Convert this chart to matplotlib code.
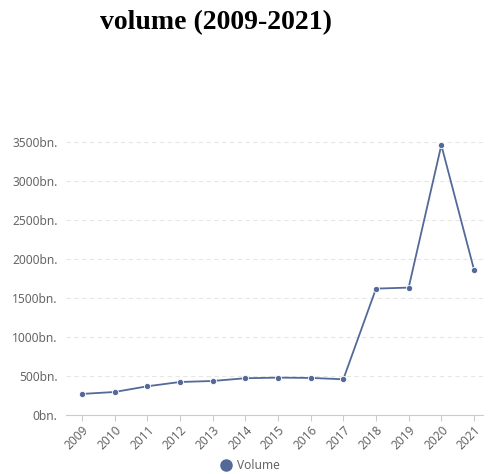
import matplotlib.pyplot as plt

years = ['2009', '2010', '2011', '2012', '2013', '2014', '2015',
         '2016', '2017', '2018', '2019', '2020', '2021']
volume = [270, 295, 368, 423, 436, 471, 479, 475, 458, 1620, 1633, 3460, 1864]
y_ticks = [0, 500, 1000, 1500, 2000, 2500, 3000, 3500]

color = '#536a98'

fig = plt.figure(figsize=(4.89, 4.74), dpi=100)
ax = fig.add_axes([0.135, 0.1245, 0.853, 0.576])

x = list(range(len(years)))
ax.plot(x, volume, color=color, linewidth=1.3, marker='o', markersize=4.5,
        markeredgecolor='white', markeredgewidth=0.6, zorder=3)

ax.set_xlim(-0.49, len(years) - 0.72)
ax.set_ylim(0, 3500)
ax.set_yticks(y_ticks)
ax.set_yticklabels([f'{v}bn.' for v in y_ticks])
ax.set_xticks(x)
ax.set_xticklabels(years, rotation=45, ha='right', rotation_mode='anchor')

for lbl in ax.get_xticklabels() + ax.get_yticklabels():
    lbl.set_family('Noto Sans')
    lbl.set_fontsize(8.6)
    lbl.set_color('#666666')

ax.grid(axis='y', color='#e6e6e6', linestyle=(0, (4, 3)), linewidth=0.8)
ax.set_axisbelow(True)
for s in ['top', 'right', 'left']:
    ax.spines[s].set_visible(False)
ax.spines['bottom'].set_color('#cccccc')
ax.tick_params(axis='y', length=0, pad=6)
ax.tick_params(axis='x', length=4, color='#cccccc', pad=2)

fig.text(0.442, 0.952, 'volume (2009-2021)', ha='center', va='center',
         family='Liberation Serif', fontweight='bold', fontsize=20)

ax.plot([], [], color=color, marker='o', linestyle='none', markersize=8, label='Volume')
leg = ax.legend(loc='center', bbox_to_anchor=(0.44, -0.186), frameon=False,
                handletextpad=0.35, handlelength=1.2,
                prop={'family': 'Noto Sans', 'size': 8.6})
for t in leg.get_texts():
    t.set_color('#666666')

fig.savefig('out.png', dpi=100)
